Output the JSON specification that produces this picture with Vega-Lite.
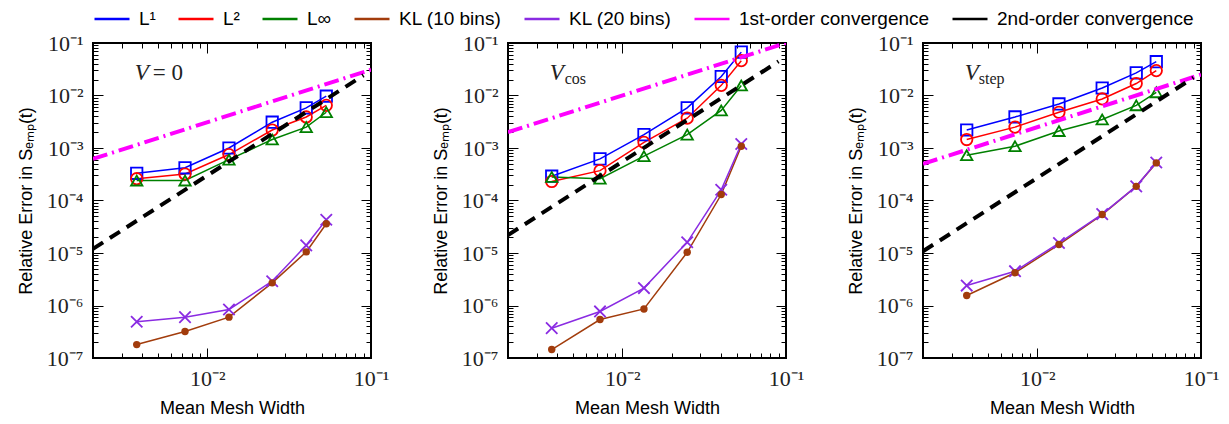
{
  "$schema": "https://vega.github.io/schema/vega-lite/v6.json",
  "padding": {"left": 16, "top": 0, "right": 0, "bottom": 0},
  "config": {
    "font": "Liberation Sans",
    "view": {"stroke": "black", "strokeWidth": 2},
    "axis": {"domain": false, "grid": false, "tickColor": "black", "tickWidth": 1, "labelColor": "#222", "titleColor": "black", "titleFontWeight": "normal", "titleFontSize": 18, "titleFont": "Liberation Sans", "labelFont": "Liberation Serif", "labelFontSize": 22, "labelOverlap": false, "labelFlush": false}
  },
  "datasets": {
    "d": [
      {"panel":"V0","kind":"data","series":"L¹","x":0.0037,"y":3.3e-4},
      {"panel":"V0","kind":"data","series":"L¹","x":0.0073,"y":4.2e-4},
      {"panel":"V0","kind":"data","series":"L¹","x":0.01355,"y":1.0e-3},
      {"panel":"V0","kind":"data","series":"L¹","x":0.0249,"y":3.1e-3},
      {"panel":"V0","kind":"data","series":"L¹","x":0.0402,"y":5.8e-3},
      {"panel":"V0","kind":"data","series":"L¹","x":0.0533,"y":9.7e-3},
      {"panel":"V0","kind":"data","series":"L²","x":0.0037,"y":2.6e-4},
      {"panel":"V0","kind":"data","series":"L²","x":0.0073,"y":3.2e-4},
      {"panel":"V0","kind":"data","series":"L²","x":0.01355,"y":7.5e-4},
      {"panel":"V0","kind":"data","series":"L²","x":0.0249,"y":2.2e-3},
      {"panel":"V0","kind":"data","series":"L²","x":0.0402,"y":3.9e-3},
      {"panel":"V0","kind":"data","series":"L²","x":0.0533,"y":6.5e-3},
      {"panel":"V0","kind":"data","series":"L∞","x":0.0037,"y":2.4e-4},
      {"panel":"V0","kind":"data","series":"L∞","x":0.0073,"y":2.4e-4},
      {"panel":"V0","kind":"data","series":"L∞","x":0.01355,"y":6.0e-4},
      {"panel":"V0","kind":"data","series":"L∞","x":0.0249,"y":1.45e-3},
      {"panel":"V0","kind":"data","series":"L∞","x":0.0402,"y":2.5e-3},
      {"panel":"V0","kind":"data","series":"L∞","x":0.0533,"y":4.8e-3},
      {"panel":"V0","kind":"data","series":"KL (10 bins)","x":0.0037,"y":1.8e-7},
      {"panel":"V0","kind":"data","series":"KL (10 bins)","x":0.0073,"y":3.2e-7},
      {"panel":"V0","kind":"data","series":"KL (10 bins)","x":0.01355,"y":6.0e-7},
      {"panel":"V0","kind":"data","series":"KL (10 bins)","x":0.0249,"y":2.7e-6},
      {"panel":"V0","kind":"data","series":"KL (10 bins)","x":0.0402,"y":1.05e-5},
      {"panel":"V0","kind":"data","series":"KL (10 bins)","x":0.0533,"y":3.6e-5},
      {"panel":"V0","kind":"data","series":"KL (20 bins)","x":0.0037,"y":4.9e-7},
      {"panel":"V0","kind":"data","series":"KL (20 bins)","x":0.0073,"y":6.0e-7},
      {"panel":"V0","kind":"data","series":"KL (20 bins)","x":0.01355,"y":8.4e-7},
      {"panel":"V0","kind":"data","series":"KL (20 bins)","x":0.0249,"y":2.9e-6},
      {"panel":"V0","kind":"data","series":"KL (20 bins)","x":0.0402,"y":1.4e-5},
      {"panel":"V0","kind":"data","series":"KL (20 bins)","x":0.0533,"y":4.3e-5},
      {"panel":"V0","kind":"ref","series":"1st-order convergence","x":0.002,"y":6.2e-4},
      {"panel":"V0","kind":"ref","series":"1st-order convergence","x":0.1,"y":0.031},
      {"panel":"V0","kind":"ref","series":"2nd-order convergence","x":0.002,"y":1.2e-5},
      {"panel":"V0","kind":"ref","series":"2nd-order convergence","x":0.09,"y":0.0243},

      {"panel":"Vcos","kind":"data","series":"L¹","x":0.0037,"y":2.9e-4},
      {"panel":"Vcos","kind":"data","series":"L¹","x":0.0073,"y":6.2e-4},
      {"panel":"Vcos","kind":"data","series":"L¹","x":0.01355,"y":1.8e-3},
      {"panel":"Vcos","kind":"data","series":"L¹","x":0.0249,"y":5.8e-3},
      {"panel":"Vcos","kind":"data","series":"L¹","x":0.0402,"y":2.3e-2},
      {"panel":"Vcos","kind":"data","series":"L¹","x":0.0533,"y":6.7e-2},
      {"panel":"Vcos","kind":"data","series":"L²","x":0.0037,"y":2.3e-4},
      {"panel":"Vcos","kind":"data","series":"L²","x":0.0073,"y":3.7e-4},
      {"panel":"Vcos","kind":"data","series":"L²","x":0.01355,"y":1.28e-3},
      {"panel":"Vcos","kind":"data","series":"L²","x":0.0249,"y":3.7e-3},
      {"panel":"Vcos","kind":"data","series":"L²","x":0.0402,"y":1.56e-2},
      {"panel":"Vcos","kind":"data","series":"L²","x":0.0533,"y":4.6e-2},
      {"panel":"Vcos","kind":"data","series":"L∞","x":0.0037,"y":2.8e-4},
      {"panel":"Vcos","kind":"data","series":"L∞","x":0.0073,"y":2.6e-4},
      {"panel":"Vcos","kind":"data","series":"L∞","x":0.01355,"y":7.0e-4},
      {"panel":"Vcos","kind":"data","series":"L∞","x":0.0249,"y":1.8e-3},
      {"panel":"Vcos","kind":"data","series":"L∞","x":0.0402,"y":5.2e-3},
      {"panel":"Vcos","kind":"data","series":"L∞","x":0.0533,"y":1.55e-2},
      {"panel":"Vcos","kind":"data","series":"KL (10 bins)","x":0.0037,"y":1.45e-7},
      {"panel":"Vcos","kind":"data","series":"KL (10 bins)","x":0.0073,"y":5.4e-7},
      {"panel":"Vcos","kind":"data","series":"KL (10 bins)","x":0.01355,"y":8.6e-7},
      {"panel":"Vcos","kind":"data","series":"KL (10 bins)","x":0.0249,"y":1.03e-5},
      {"panel":"Vcos","kind":"data","series":"KL (10 bins)","x":0.0402,"y":1.3e-4},
      {"panel":"Vcos","kind":"data","series":"KL (10 bins)","x":0.0533,"y":1.08e-3},
      {"panel":"Vcos","kind":"data","series":"KL (20 bins)","x":0.0037,"y":3.7e-7},
      {"panel":"Vcos","kind":"data","series":"KL (20 bins)","x":0.0073,"y":7.7e-7},
      {"panel":"Vcos","kind":"data","series":"KL (20 bins)","x":0.01355,"y":2.15e-6},
      {"panel":"Vcos","kind":"data","series":"KL (20 bins)","x":0.0249,"y":1.6e-5},
      {"panel":"Vcos","kind":"data","series":"KL (20 bins)","x":0.0402,"y":1.6e-4},
      {"panel":"Vcos","kind":"data","series":"KL (20 bins)","x":0.0533,"y":1.19e-3},
      {"panel":"Vcos","kind":"ref","series":"1st-order convergence","x":0.002,"y":2.0e-3},
      {"panel":"Vcos","kind":"ref","series":"1st-order convergence","x":0.1,"y":0.1},
      {"panel":"Vcos","kind":"ref","series":"2nd-order convergence","x":0.002,"y":2.2e-5},
      {"panel":"Vcos","kind":"ref","series":"2nd-order convergence","x":0.09,"y":0.0446},

      {"panel":"Vstep","kind":"data","series":"L¹","x":0.0037,"y":2.2e-3},
      {"panel":"Vstep","kind":"data","series":"L¹","x":0.0073,"y":3.9e-3},
      {"panel":"Vstep","kind":"data","series":"L¹","x":0.01355,"y":6.9e-3},
      {"panel":"Vstep","kind":"data","series":"L¹","x":0.0249,"y":1.39e-2},
      {"panel":"Vstep","kind":"data","series":"L¹","x":0.0402,"y":2.7e-2},
      {"panel":"Vstep","kind":"data","series":"L¹","x":0.0533,"y":4.4e-2},
      {"panel":"Vstep","kind":"data","series":"L²","x":0.0037,"y":1.45e-3},
      {"panel":"Vstep","kind":"data","series":"L²","x":0.0073,"y":2.5e-3},
      {"panel":"Vstep","kind":"data","series":"L²","x":0.01355,"y":4.8e-3},
      {"panel":"Vstep","kind":"data","series":"L²","x":0.0249,"y":8.6e-3},
      {"panel":"Vstep","kind":"data","series":"L²","x":0.0402,"y":1.69e-2},
      {"panel":"Vstep","kind":"data","series":"L²","x":0.0533,"y":2.98e-2},
      {"panel":"Vstep","kind":"data","series":"L∞","x":0.0037,"y":7.3e-4},
      {"panel":"Vstep","kind":"data","series":"L∞","x":0.0073,"y":1.08e-3},
      {"panel":"Vstep","kind":"data","series":"L∞","x":0.01355,"y":2.1e-3},
      {"panel":"Vstep","kind":"data","series":"L∞","x":0.0249,"y":3.5e-3},
      {"panel":"Vstep","kind":"data","series":"L∞","x":0.0402,"y":6.5e-3},
      {"panel":"Vstep","kind":"data","series":"L∞","x":0.0533,"y":1.15e-2},
      {"panel":"Vstep","kind":"data","series":"KL (10 bins)","x":0.0037,"y":1.55e-6},
      {"panel":"Vstep","kind":"data","series":"KL (10 bins)","x":0.0073,"y":4.2e-6},
      {"panel":"Vstep","kind":"data","series":"KL (10 bins)","x":0.01355,"y":1.45e-5},
      {"panel":"Vstep","kind":"data","series":"KL (10 bins)","x":0.0249,"y":5.4e-5},
      {"panel":"Vstep","kind":"data","series":"KL (10 bins)","x":0.0402,"y":1.86e-4},
      {"panel":"Vstep","kind":"data","series":"KL (10 bins)","x":0.0533,"y":5.2e-4},
      {"panel":"Vstep","kind":"data","series":"KL (20 bins)","x":0.0037,"y":2.4e-6},
      {"panel":"Vstep","kind":"data","series":"KL (20 bins)","x":0.0073,"y":4.5e-6},
      {"panel":"Vstep","kind":"data","series":"KL (20 bins)","x":0.01355,"y":1.55e-5},
      {"panel":"Vstep","kind":"data","series":"KL (20 bins)","x":0.0249,"y":5.5e-5},
      {"panel":"Vstep","kind":"data","series":"KL (20 bins)","x":0.0402,"y":1.86e-4},
      {"panel":"Vstep","kind":"data","series":"KL (20 bins)","x":0.0533,"y":5.3e-4},
      {"panel":"Vstep","kind":"ref","series":"1st-order convergence","x":0.002,"y":5.0e-4},
      {"panel":"Vstep","kind":"ref","series":"1st-order convergence","x":0.1,"y":0.025},
      {"panel":"Vstep","kind":"ref","series":"2nd-order convergence","x":0.002,"y":1.08e-5},
      {"panel":"Vstep","kind":"ref","series":"2nd-order convergence","x":0.09,"y":0.0219}
    ]
  },
  "spacing": 41,
  "hconcat": [
    {
      "data": {"name": "d"},
      "transform": [{"filter": "datum.panel=='V0'"}],
      "width": 278, "height": 315,
      "encoding": {
        "x": {"field": "x", "type": "quantitative", "scale": {"type": "log", "domain": [0.002, 0.1], "nice": false}, "axis": null},
        "y": {"field": "y", "type": "quantitative", "scale": {"type": "log", "domain": [1e-7, 0.1], "nice": false}, "axis": null},
        "color": {"field": "series", "type": "nominal",
          "scale": {"domain": ["L¹","L²","L∞","KL (10 bins)","KL (20 bins)","1st-order convergence","2nd-order convergence"], "range": ["#0000ff","#ff0000","#008000","#a23c0c","#8a2be2","#ff00ff","#000000"]},
          "legend": {"orient": "top", "direction": "horizontal", "title": null, "symbolType": "stroke", "symbolStrokeWidth": 2.5, "symbolSize": 1225, "labelFontSize": 19, "labelFont": "Liberation Sans", "labelColor": "black", "labelLimit": 400, "columnPadding": 17, "labelOffset": 8, "offset": 2}
        }
      },
      "layer": [
        {"transform": [{"filter": "datum.kind=='data'"}],
         "mark": {"type": "line", "strokeWidth": 1.5},
         "encoding": {
           "x": {"field": "x", "type": "quantitative", "scale": {"type": "log", "domain": [0.002, 0.1], "nice": false},
             "axis": {"orient": "bottom", "values": [0.01, 0.1], "labelExpr": "datum.value < 0.05 ? '10⁻²' : '10⁻¹'", "tickSize": -10, "labelPadding": 20, "title": "Mean Mesh Width", "titlePadding": 10}},
           "y": {"field": "y", "type": "quantitative", "scale": {"type": "log", "domain": [1e-7, 0.1], "nice": false},
             "axis": {"orient": "left", "values": [1e-7,1e-6,1e-5,1e-4,1e-3,0.01,0.1], "labelExpr": "'10⁻'+['','¹','²','³','⁴','⁵','⁶','⁷'][-round(log(datum.value)/LN10)]", "tickSize": -10, "labelPadding": 20, "title": "Relative Error in Sₑₘₚ(t)", "titlePadding": 11}}
         }},
        {"transform": [{"filter": "datum.kind=='data' && datum.series!='KL (10 bins)'"}],
         "mark": {"type": "point", "filled": false, "size": 130, "strokeWidth": 1.8, "opacity": 1},
         "encoding": {
           "x": {"field": "x", "type": "quantitative", "scale": {"type": "log", "domain": [0.002, 0.1], "nice": false},
             "axis": {"orient": "top", "values": [0.01, 0.1], "labels": false, "title": null, "tickSize": -10}},
           "y": {"field": "y", "type": "quantitative", "scale": {"type": "log", "domain": [1e-7, 0.1], "nice": false},
             "axis": {"orient": "right", "values": [1e-7,1e-6,1e-5,1e-4,1e-3,0.01,0.1], "labels": false, "title": null, "tickSize": -10}},
           "shape": {"field": "series", "type": "nominal", "legend": null, "scale": {"domain": ["L¹","L²","L∞","KL (20 bins)"], "range": ["square","circle","triangle-up","M-1,-1L1,1M-1,1L1,-1"]}}
         }},
        {"transform": [{"filter": "datum.series=='KL (10 bins)'"}],
         "mark": {"type": "circle", "size": 55, "opacity": 1},
         "encoding": {
           "x": {"field": "x", "type": "quantitative", "scale": {"type": "log", "domain": [0.002, 0.1], "nice": false},
             "axis": {"orient": "bottom", "values": [0.003,0.004,0.005,0.006,0.007,0.008,0.009,0.02,0.03,0.04,0.05,0.06,0.07,0.08,0.09], "labels": false, "title": null, "tickSize": -5}},
           "y": {"field": "y", "type": "quantitative", "scale": {"type": "log", "domain": [1e-7, 0.1], "nice": false},
             "axis": {"orient": "left", "values": [2e-7,3e-7,4e-7,5e-7,6e-7,7e-7,8e-7,9e-7,2e-6,3e-6,4e-6,5e-6,6e-6,7e-6,8e-6,9e-6,2e-5,3e-5,4e-5,5e-5,6e-5,7e-5,8e-5,9e-5,2e-4,3e-4,4e-4,5e-4,6e-4,7e-4,8e-4,9e-4,2e-3,3e-3,4e-3,5e-3,6e-3,7e-3,8e-3,9e-3,0.02,0.03,0.04,0.05,0.06,0.07,0.08,0.09], "labels": false, "title": null, "tickSize": -5}}
         }},
        {"transform": [{"filter": "datum.series=='1st-order convergence'"}],
         "mark": {"type": "line", "strokeWidth": 4, "strokeDash": [15,5,2,5], "clip": true},
         "encoding": {
           "x": {"field": "x", "type": "quantitative", "scale": {"type": "log", "domain": [0.002, 0.1], "nice": false},
             "axis": {"orient": "top", "values": [0.003,0.004,0.005,0.006,0.007,0.008,0.009,0.02,0.03,0.04,0.05,0.06,0.07,0.08,0.09], "labels": false, "title": null, "tickSize": -5}},
           "y": {"field": "y", "type": "quantitative", "scale": {"type": "log", "domain": [1e-7, 0.1], "nice": false},
             "axis": {"orient": "right", "values": [2e-7,3e-7,4e-7,5e-7,6e-7,7e-7,8e-7,9e-7,2e-6,3e-6,4e-6,5e-6,6e-6,7e-6,8e-6,9e-6,2e-5,3e-5,4e-5,5e-5,6e-5,7e-5,8e-5,9e-5,2e-4,3e-4,4e-4,5e-4,6e-4,7e-4,8e-4,9e-4,2e-3,3e-3,4e-3,5e-3,6e-3,7e-3,8e-3,9e-3,0.02,0.03,0.04,0.05,0.06,0.07,0.08,0.09], "labels": false, "title": null, "tickSize": -5}}
         }},
        {"transform": [{"filter": "datum.series=='2nd-order convergence'"}],
         "mark": {"type": "line", "strokeWidth": 4, "strokeDash": [12,8], "clip": true},
         "encoding": {}},
        {"transform": [{"filter": "datum.series=='1st-order convergence' && datum.x < 0.005"}],
         "mark": {"type": "text", "font": "Liberation Serif", "fontStyle": "italic", "fontSize": 23, "align": "left", "baseline": "alphabetic"},
         "encoding": {"x": {"datum": 0.0036, "type": "quantitative", "scale": {"type": "log", "domain": [0.002, 0.1], "nice": false}, "axis": null}, "y": {"datum": 0.0195, "type": "quantitative", "scale": {"type": "log", "domain": [1e-7, 0.1], "nice": false}, "axis": null}, "text": {"value": "V"}, "color": {"value": "#222"}}},
        {"transform": [{"filter": "datum.series=='1st-order convergence' && datum.x < 0.005"}],
         "mark": {"type": "text", "font": "Liberation Serif", "fontSize": 23, "align": "left", "baseline": "alphabetic", "dx": 18},
         "encoding": {"x": {"datum": 0.0036, "type": "quantitative", "scale": {"type": "log", "domain": [0.002, 0.1], "nice": false}, "axis": null}, "y": {"datum": 0.0195, "type": "quantitative", "scale": {"type": "log", "domain": [1e-7, 0.1], "nice": false}, "axis": null}, "text": {"value": "= 0"}, "color": {"value": "#222"}}}
      ],
      "resolve": {"axis": {"x": "independent", "y": "independent"}}
    },
    {
      "data": {"name": "d"},
      "transform": [{"filter": "datum.panel=='Vcos'"}],
      "width": 278, "height": 315,
      "encoding": {
        "x": {"field": "x", "type": "quantitative", "scale": {"type": "log", "domain": [0.002, 0.1], "nice": false}, "axis": null},
        "y": {"field": "y", "type": "quantitative", "scale": {"type": "log", "domain": [1e-7, 0.1], "nice": false}, "axis": null},
        "color": {"field": "series", "type": "nominal",
          "scale": {"domain": ["L¹","L²","L∞","KL (10 bins)","KL (20 bins)","1st-order convergence","2nd-order convergence"], "range": ["#0000ff","#ff0000","#008000","#a23c0c","#8a2be2","#ff00ff","#000000"]}}
      },
      "layer": [
        {"transform": [{"filter": "datum.kind=='data'"}],
         "mark": {"type": "line", "strokeWidth": 1.5},
         "encoding": {
           "x": {"field": "x", "type": "quantitative", "scale": {"type": "log", "domain": [0.002, 0.1], "nice": false},
             "axis": {"orient": "bottom", "values": [0.01, 0.1], "labelExpr": "datum.value < 0.05 ? '10⁻²' : '10⁻¹'", "tickSize": -10, "labelPadding": 20, "title": "Mean Mesh Width", "titlePadding": 10}},
           "y": {"field": "y", "type": "quantitative", "scale": {"type": "log", "domain": [1e-7, 0.1], "nice": false},
             "axis": {"orient": "left", "values": [1e-7,1e-6,1e-5,1e-4,1e-3,0.01,0.1], "labelExpr": "'10⁻'+['','¹','²','³','⁴','⁵','⁶','⁷'][-round(log(datum.value)/LN10)]", "tickSize": -10, "labelPadding": 20, "title": "Relative Error in Sₑₘₚ(t)", "titlePadding": 11}}
         }},
        {"transform": [{"filter": "datum.kind=='data' && datum.series!='KL (10 bins)'"}],
         "mark": {"type": "point", "filled": false, "size": 130, "strokeWidth": 1.8, "opacity": 1},
         "encoding": {
           "x": {"field": "x", "type": "quantitative", "scale": {"type": "log", "domain": [0.002, 0.1], "nice": false},
             "axis": {"orient": "top", "values": [0.01, 0.1], "labels": false, "title": null, "tickSize": -10}},
           "y": {"field": "y", "type": "quantitative", "scale": {"type": "log", "domain": [1e-7, 0.1], "nice": false},
             "axis": {"orient": "right", "values": [1e-7,1e-6,1e-5,1e-4,1e-3,0.01,0.1], "labels": false, "title": null, "tickSize": -10}},
           "shape": {"field": "series", "type": "nominal", "legend": null, "scale": {"domain": ["L¹","L²","L∞","KL (20 bins)"], "range": ["square","circle","triangle-up","M-1,-1L1,1M-1,1L1,-1"]}}
         }},
        {"transform": [{"filter": "datum.series=='KL (10 bins)'"}],
         "mark": {"type": "circle", "size": 55, "opacity": 1},
         "encoding": {
           "x": {"field": "x", "type": "quantitative", "scale": {"type": "log", "domain": [0.002, 0.1], "nice": false},
             "axis": {"orient": "bottom", "values": [0.003,0.004,0.005,0.006,0.007,0.008,0.009,0.02,0.03,0.04,0.05,0.06,0.07,0.08,0.09], "labels": false, "title": null, "tickSize": -5}},
           "y": {"field": "y", "type": "quantitative", "scale": {"type": "log", "domain": [1e-7, 0.1], "nice": false},
             "axis": {"orient": "left", "values": [2e-7,3e-7,4e-7,5e-7,6e-7,7e-7,8e-7,9e-7,2e-6,3e-6,4e-6,5e-6,6e-6,7e-6,8e-6,9e-6,2e-5,3e-5,4e-5,5e-5,6e-5,7e-5,8e-5,9e-5,2e-4,3e-4,4e-4,5e-4,6e-4,7e-4,8e-4,9e-4,2e-3,3e-3,4e-3,5e-3,6e-3,7e-3,8e-3,9e-3,0.02,0.03,0.04,0.05,0.06,0.07,0.08,0.09], "labels": false, "title": null, "tickSize": -5}}
         }},
        {"transform": [{"filter": "datum.series=='1st-order convergence'"}],
         "mark": {"type": "line", "strokeWidth": 4, "strokeDash": [15,5,2,5], "clip": true},
         "encoding": {
           "x": {"field": "x", "type": "quantitative", "scale": {"type": "log", "domain": [0.002, 0.1], "nice": false},
             "axis": {"orient": "top", "values": [0.003,0.004,0.005,0.006,0.007,0.008,0.009,0.02,0.03,0.04,0.05,0.06,0.07,0.08,0.09], "labels": false, "title": null, "tickSize": -5}},
           "y": {"field": "y", "type": "quantitative", "scale": {"type": "log", "domain": [1e-7, 0.1], "nice": false},
             "axis": {"orient": "right", "values": [2e-7,3e-7,4e-7,5e-7,6e-7,7e-7,8e-7,9e-7,2e-6,3e-6,4e-6,5e-6,6e-6,7e-6,8e-6,9e-6,2e-5,3e-5,4e-5,5e-5,6e-5,7e-5,8e-5,9e-5,2e-4,3e-4,4e-4,5e-4,6e-4,7e-4,8e-4,9e-4,2e-3,3e-3,4e-3,5e-3,6e-3,7e-3,8e-3,9e-3,0.02,0.03,0.04,0.05,0.06,0.07,0.08,0.09], "labels": false, "title": null, "tickSize": -5}}
         }},
        {"transform": [{"filter": "datum.series=='2nd-order convergence'"}],
         "mark": {"type": "line", "strokeWidth": 4, "strokeDash": [12,8], "clip": true},
         "encoding": {}},
        {"transform": [{"filter": "datum.series=='1st-order convergence' && datum.x < 0.005"}],
         "mark": {"type": "text", "font": "Liberation Serif", "fontStyle": "italic", "fontSize": 23, "align": "left", "baseline": "alphabetic"},
         "encoding": {"x": {"datum": 0.0036, "type": "quantitative", "scale": {"type": "log", "domain": [0.002, 0.1], "nice": false}, "axis": null}, "y": {"datum": 0.0195, "type": "quantitative", "scale": {"type": "log", "domain": [1e-7, 0.1], "nice": false}, "axis": null}, "text": {"value": "V"}, "color": {"value": "#222"}}},
        {"transform": [{"filter": "datum.series=='1st-order convergence' && datum.x < 0.005"}],
         "mark": {"type": "text", "font": "Liberation Serif", "fontSize": 16, "align": "left", "baseline": "alphabetic", "dx": 15, "dy": 4},
         "encoding": {"x": {"datum": 0.0036, "type": "quantitative", "scale": {"type": "log", "domain": [0.002, 0.1], "nice": false}, "axis": null}, "y": {"datum": 0.0195, "type": "quantitative", "scale": {"type": "log", "domain": [1e-7, 0.1], "nice": false}, "axis": null}, "text": {"value": "cos"}, "color": {"value": "#222"}}}
      ],
      "resolve": {"axis": {"x": "independent", "y": "independent"}}
    },
    {
      "data": {"name": "d"},
      "transform": [{"filter": "datum.panel=='Vstep'"}],
      "width": 278, "height": 315,
      "encoding": {
        "x": {"field": "x", "type": "quantitative", "scale": {"type": "log", "domain": [0.002, 0.1], "nice": false}, "axis": null},
        "y": {"field": "y", "type": "quantitative", "scale": {"type": "log", "domain": [1e-7, 0.1], "nice": false}, "axis": null},
        "color": {"field": "series", "type": "nominal",
          "scale": {"domain": ["L¹","L²","L∞","KL (10 bins)","KL (20 bins)","1st-order convergence","2nd-order convergence"], "range": ["#0000ff","#ff0000","#008000","#a23c0c","#8a2be2","#ff00ff","#000000"]}}
      },
      "layer": [
        {"transform": [{"filter": "datum.kind=='data'"}],
         "mark": {"type": "line", "strokeWidth": 1.5},
         "encoding": {
           "x": {"field": "x", "type": "quantitative", "scale": {"type": "log", "domain": [0.002, 0.1], "nice": false},
             "axis": {"orient": "bottom", "values": [0.01, 0.1], "labelExpr": "datum.value < 0.05 ? '10⁻²' : '10⁻¹'", "tickSize": -10, "labelPadding": 20, "title": "Mean Mesh Width", "titlePadding": 10}},
           "y": {"field": "y", "type": "quantitative", "scale": {"type": "log", "domain": [1e-7, 0.1], "nice": false},
             "axis": {"orient": "left", "values": [1e-7,1e-6,1e-5,1e-4,1e-3,0.01,0.1], "labelExpr": "'10⁻'+['','¹','²','³','⁴','⁵','⁶','⁷'][-round(log(datum.value)/LN10)]", "tickSize": -10, "labelPadding": 20, "title": "Relative Error in Sₑₘₚ(t)", "titlePadding": 11}}
         }},
        {"transform": [{"filter": "datum.kind=='data' && datum.series!='KL (10 bins)'"}],
         "mark": {"type": "point", "filled": false, "size": 130, "strokeWidth": 1.8, "opacity": 1},
         "encoding": {
           "x": {"field": "x", "type": "quantitative", "scale": {"type": "log", "domain": [0.002, 0.1], "nice": false},
             "axis": {"orient": "top", "values": [0.01, 0.1], "labels": false, "title": null, "tickSize": -10}},
           "y": {"field": "y", "type": "quantitative", "scale": {"type": "log", "domain": [1e-7, 0.1], "nice": false},
             "axis": {"orient": "right", "values": [1e-7,1e-6,1e-5,1e-4,1e-3,0.01,0.1], "labels": false, "title": null, "tickSize": -10}},
           "shape": {"field": "series", "type": "nominal", "legend": null, "scale": {"domain": ["L¹","L²","L∞","KL (20 bins)"], "range": ["square","circle","triangle-up","M-1,-1L1,1M-1,1L1,-1"]}}
         }},
        {"transform": [{"filter": "datum.series=='KL (10 bins)'"}],
         "mark": {"type": "circle", "size": 55, "opacity": 1},
         "encoding": {
           "x": {"field": "x", "type": "quantitative", "scale": {"type": "log", "domain": [0.002, 0.1], "nice": false},
             "axis": {"orient": "bottom", "values": [0.003,0.004,0.005,0.006,0.007,0.008,0.009,0.02,0.03,0.04,0.05,0.06,0.07,0.08,0.09], "labels": false, "title": null, "tickSize": -5}},
           "y": {"field": "y", "type": "quantitative", "scale": {"type": "log", "domain": [1e-7, 0.1], "nice": false},
             "axis": {"orient": "left", "values": [2e-7,3e-7,4e-7,5e-7,6e-7,7e-7,8e-7,9e-7,2e-6,3e-6,4e-6,5e-6,6e-6,7e-6,8e-6,9e-6,2e-5,3e-5,4e-5,5e-5,6e-5,7e-5,8e-5,9e-5,2e-4,3e-4,4e-4,5e-4,6e-4,7e-4,8e-4,9e-4,2e-3,3e-3,4e-3,5e-3,6e-3,7e-3,8e-3,9e-3,0.02,0.03,0.04,0.05,0.06,0.07,0.08,0.09], "labels": false, "title": null, "tickSize": -5}}
         }},
        {"transform": [{"filter": "datum.series=='1st-order convergence'"}],
         "mark": {"type": "line", "strokeWidth": 4, "strokeDash": [15,5,2,5], "clip": true},
         "encoding": {
           "x": {"field": "x", "type": "quantitative", "scale": {"type": "log", "domain": [0.002, 0.1], "nice": false},
             "axis": {"orient": "top", "values": [0.003,0.004,0.005,0.006,0.007,0.008,0.009,0.02,0.03,0.04,0.05,0.06,0.07,0.08,0.09], "labels": false, "title": null, "tickSize": -5}},
           "y": {"field": "y", "type": "quantitative", "scale": {"type": "log", "domain": [1e-7, 0.1], "nice": false},
             "axis": {"orient": "right", "values": [2e-7,3e-7,4e-7,5e-7,6e-7,7e-7,8e-7,9e-7,2e-6,3e-6,4e-6,5e-6,6e-6,7e-6,8e-6,9e-6,2e-5,3e-5,4e-5,5e-5,6e-5,7e-5,8e-5,9e-5,2e-4,3e-4,4e-4,5e-4,6e-4,7e-4,8e-4,9e-4,2e-3,3e-3,4e-3,5e-3,6e-3,7e-3,8e-3,9e-3,0.02,0.03,0.04,0.05,0.06,0.07,0.08,0.09], "labels": false, "title": null, "tickSize": -5}}
         }},
        {"transform": [{"filter": "datum.series=='2nd-order convergence'"}],
         "mark": {"type": "line", "strokeWidth": 4, "strokeDash": [12,8], "clip": true},
         "encoding": {}},
        {"transform": [{"filter": "datum.series=='1st-order convergence' && datum.x < 0.005"}],
         "mark": {"type": "text", "font": "Liberation Serif", "fontStyle": "italic", "fontSize": 23, "align": "left", "baseline": "alphabetic"},
         "encoding": {"x": {"datum": 0.0036, "type": "quantitative", "scale": {"type": "log", "domain": [0.002, 0.1], "nice": false}, "axis": null}, "y": {"datum": 0.0195, "type": "quantitative", "scale": {"type": "log", "domain": [1e-7, 0.1], "nice": false}, "axis": null}, "text": {"value": "V"}, "color": {"value": "#222"}}},
        {"transform": [{"filter": "datum.series=='1st-order convergence' && datum.x < 0.005"}],
         "mark": {"type": "text", "font": "Liberation Serif", "fontSize": 16, "align": "left", "baseline": "alphabetic", "dx": 14, "dy": 4},
         "encoding": {"x": {"datum": 0.0036, "type": "quantitative", "scale": {"type": "log", "domain": [0.002, 0.1], "nice": false}, "axis": null}, "y": {"datum": 0.0195, "type": "quantitative", "scale": {"type": "log", "domain": [1e-7, 0.1], "nice": false}, "axis": null}, "text": {"value": "step"}, "color": {"value": "#222"}}}
      ],
      "resolve": {"axis": {"x": "independent", "y": "independent"}}
    }
  ]
}
